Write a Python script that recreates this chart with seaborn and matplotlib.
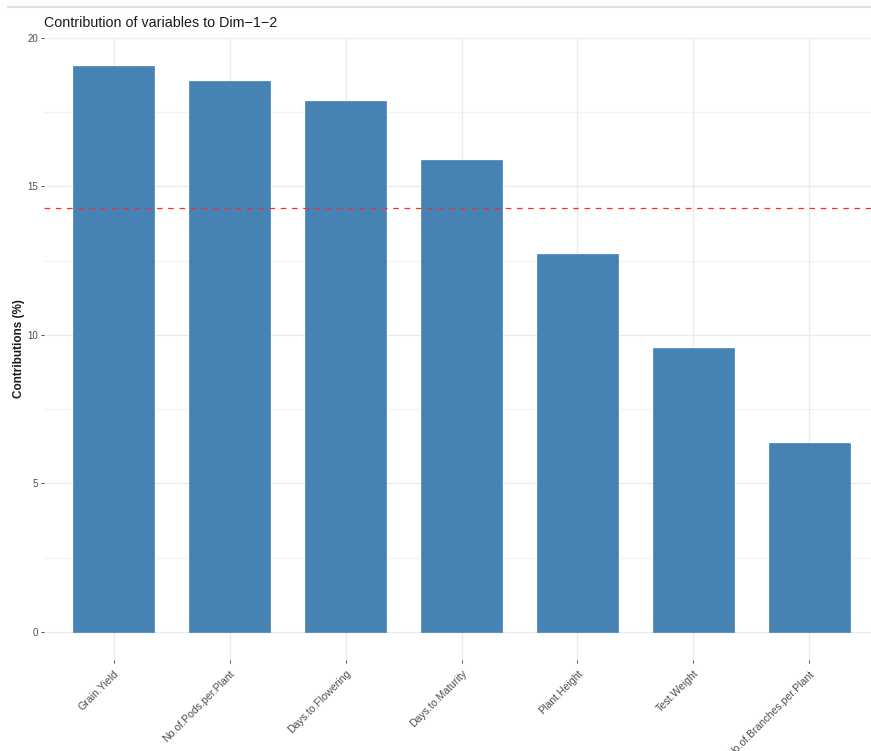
import matplotlib
matplotlib.use("Agg")
import matplotlib.pyplot as plt
from matplotlib.ticker import MultipleLocator
from matplotlib.lines import Line2D
import seaborn as sns
import pandas as pd
import numpy as np

categories = ["Grain.Yield", "No.of.Pods.per.Plant", "Days.to.Flowering",
              "Days.to.Maturity", "Plant.Height", "Test.Weight",
              "No.of.Branches.per.Plant"]
contributions = [19.06, 18.55, 17.88, 15.89, 12.73, 9.56, 6.36]
y_ticks = [0, 5, 10, 15, 20]
expected = 100.0 / len(categories)

df = pd.DataFrame({"variable": categories, "contrib": contributions})

sns.set_theme(style="white")
plt.rcParams["font.family"] = ["Liberation Sans", "DejaVu Sans"]

W, H = 871, 751
fig = plt.figure(figsize=(W / 100, H / 100), dpi=100)
fig.patch.set_facecolor("white")

left_px, right_px = 44.4, 878.6
top_px, bottom_px = 37.7, 660.3
ax = fig.add_axes([left_px / W, 1 - bottom_px / H,
                   (right_px - left_px) / W, (bottom_px - top_px) / H])

sns.barplot(data=df, x="variable", y="contrib", order=categories,
            color="#4682B4", saturation=1, width=0.7,
            edgecolor="#4682B4", linewidth=0.5, ax=ax, zorder=3)

ax.axhline(expected, color="#FF2A2A", lw=0.9, ls=(0, (4.5, 4.5)), zorder=4)

ymax = max(contributions)
ax.set_xlim(-0.6, len(categories) - 1 + 0.6)
ax.set_ylim(-0.05 * ymax, 20.01)
ax.set_yticks(y_ticks)
ax.set_yticklabels([str(v) for v in y_ticks])
ax.yaxis.set_minor_locator(MultipleLocator(2.5))

ax.grid(True, which="major", axis="both", color="#EBEBEB", lw=1.0, zorder=0)
ax.grid(True, which="minor", axis="y", color="#F2F2F2", lw=0.8, zorder=0)
ax.set_axisbelow(True)
for s in ax.spines.values():
    s.set_visible(False)

ax.tick_params(axis="both", which="major", length=2.5, width=0.6,
               color="#333333", labelsize=7, labelcolor="#4D4D4D", pad=2)
ax.tick_params(axis="y", which="minor", length=0)
ax.tick_params(axis="x", bottom=True, pad=3.5)
ax.tick_params(axis="y", left=True)

ax.set_xticks(range(len(categories)))
ax.set_xticklabels(categories, rotation=45, ha="right", va="top",
                   rotation_mode="anchor", fontsize=7.6, color="#4D4D4D")

ax.set_xlabel("")
ax.set_ylabel("Contributions (%)", fontsize=8.5, fontweight="bold", color="#1A1A1A")
ax.yaxis.set_label_coords(-0.023, 0.5)

ax.set_title("Contribution of variables to Dim\u22121\u22122", loc="left",
             fontsize=10.3, color="#1A1A1A", pad=8)

fig.add_artist(Line2D([8 / W, 1], [1 - 7 / H, 1 - 7 / H],
                      transform=fig.transFigure, color="#DDDDDD", lw=1.5))

fig.savefig("out.png", dpi=100)
